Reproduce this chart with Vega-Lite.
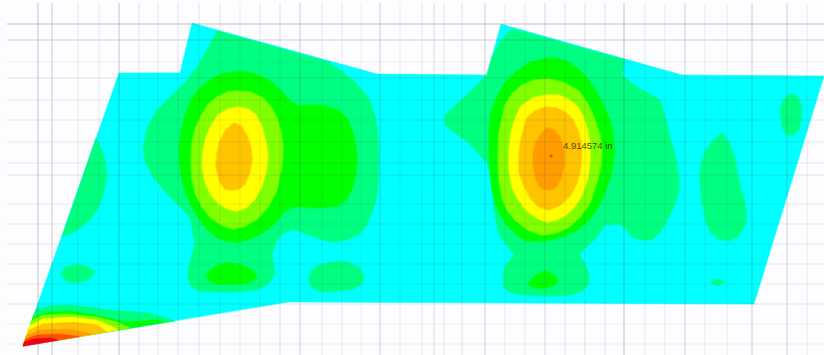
{
"$schema":"https://vega.github.io/schema/vega-lite/v6.json",
"width":824,"height":355,"padding":0,"autosize":{"type":"none"},
"background":"#fdfdff",
"config":{"view":{"stroke":null}},
"layer":[
{"data":{"values":[
{"type":"Feature","properties":{"level":"a","w":1},"geometry":{"type":"Polygon","coordinates":[[[23,346],[119,73],[180,73],[192,23],[377,74],[487,75],[501,24],[682,75],[824,76],[754,304],[288,302],[23,346]]]}},
{"type":"Feature","properties":{"level":"b","w":1.5},"geometry":{"type":"Polygon","coordinates":[[[217,31],[328,62],[340,70],[353,80],[362,90],[370,100],[375,116],[378,133],[379,160],[378,187],[376,200],[373,210],[367,224],[360,234],[347,240],[333,242],[320,239],[307,234],[293,229],[284,233],[277,240],[272,254],[275,274],[268,284],[257,290],[235,292],[213,292],[200,291],[192,287],[188,278],[188,270],[195,244],[190,217],[170,197],[153,177],[146,163],[143,150],[147,128],[157,110],[170,97],[185,83],[200,63],[217,31]]]}},
{"type":"Feature","properties":{"level":"b","w":1.5},"geometry":{"type":"Polygon","coordinates":[[[512,29],[625,60],[622,75],[630,82],[639,88],[660,100],[665,117],[669,133],[675,155],[679,177],[679,190],[675,204],[669,217],[661,231],[652,240],[642,240],[632,237],[625,228],[619,224],[605,225],[597,237],[579,254],[585,264],[589,275],[589,284],[582,291],[572,295],[547,296],[522,295],[510,292],[504,287],[503,277],[505,267],[514,255],[499,234],[494,210],[492,177],[487,163],[469,143],[455,133],[445,125],[445,115],[455,106],[469,93],[487,75],[492,57],[500,42],[512,29]]]}},
{"type":"Feature","properties":{"level":"b","w":1},"geometry":{"type":"Polygon","coordinates":[[[96,138],[102,150],[105,160],[107,177],[103,197],[97,210],[90,220],[76,231],[62,237],[96,138]]]}},
{"type":"Feature","properties":{"level":"b","w":3},"geometry":{"type":"Polygon","coordinates":[[[61,274],[65,268],[77,265],[88,267],[94,272],[90,278],[83,281],[73,283],[66,280],[61,274]]]}},
{"type":"Feature","properties":{"level":"b","w":3},"geometry":{"type":"Polygon","coordinates":[[[309,279],[312,270],[320,265],[333,262],[347,262],[359,268],[364,277],[360,285],[352,289],[336,291],[320,291],[312,287],[309,279]]]}},
{"type":"Feature","properties":{"level":"b","w":3},"geometry":{"type":"Polygon","coordinates":[[[722,134],[712,142],[706,151],[701,165],[700,177],[702,200],[706,220],[711,232],[719,239],[730,240],[738,236],[745,225],[746,214],[744,200],[740,187],[734,157],[729,143],[722,134]]]}},
{"type":"Feature","properties":{"level":"b","w":3},"geometry":{"type":"Polygon","coordinates":[[[791,94],[784,100],[781,108],[782,125],[786,134],[792,136],[798,130],[801,120],[801,105],[797,97],[791,94]]]}},
{"type":"Feature","properties":{"level":"b","w":1},"geometry":{"type":"Polygon","coordinates":[[[710,282],[717,279],[725,282],[717,286],[710,282]]]}},
{"type":"Feature","properties":{"level":"b","w":1},"geometry":{"type":"Polygon","coordinates":[[[36,309],[50,306],[67,305],[90,307],[110,310],[150,313],[175,321],[23,346],[36,309]]]}},
{"type":"Feature","properties":{"level":"c","w":2},"geometry":{"type":"Polygon","coordinates":[[[237,72],[246,72],[256,74],[270,81],[280,90],[288,99],[298,106],[310,105],[325,106],[338,110],[347,118],[353,133],[356,147],[357,160],[356,173],[353,186],[347,199],[338,206],[320,208],[305,207],[293,207],[285,211],[277,221],[268,229],[257,236],[247,240],[237,242],[226,241],[216,237],[207,229],[199,219],[192,207],[186,193],[182,180],[180,167],[179,150],[181,133],[185,115],[191,100],[201,87],[213,78],[225,73],[237,72]]]}},
{"type":"Feature","properties":{"level":"c","w":2},"geometry":{"type":"Polygon","coordinates":[[[555,58],[566,61],[577,68],[586,77],[594,88],[602,102],[609,118],[613,133],[614,147],[613,165],[610,178],[605,192],[598,207],[590,219],[579,229],[566,236],[545,241],[527,241],[518,236],[509,227],[502,218],[496,205],[492,190],[490,170],[489,150],[489,130],[491,112],[497,97],[505,83],[516,72],[529,63],[542,59],[555,58]]]}},
{"type":"Feature","properties":{"level":"c","w":3},"geometry":{"type":"Polygon","coordinates":[[[206,275],[213,268],[227,263],[241,265],[252,270],[257,278],[246,283],[233,284],[217,284],[210,281],[206,275]]]}},
{"type":"Feature","properties":{"level":"c","w":3},"geometry":{"type":"Polygon","coordinates":[[[528,284],[535,276],[545,271],[553,275],[558,281],[552,286],[545,288],[535,288],[528,284]]]}},
{"type":"Feature","properties":{"level":"c","w":1},"geometry":{"type":"Polygon","coordinates":[[[33,317],[50,312],[70,311],[100,316],[125,322],[155,320],[165,322],[23,346],[33,317]]]}},
{"type":"Feature","properties":{"level":"d","w":2},"geometry":{"type":"Polygon","coordinates":[[[238,91],[250,92],[263,98],[271,107],[277,118],[281,132],[283,147],[282,165],[277,190],[268,207],[257,219],[245,226],[233,229],[221,225],[210,217],[202,207],[196,195],[192,180],[191,160],[192,143],[195,129],[201,116],[208,105],[217,97],[228,92],[238,91]]]}},
{"type":"Feature","properties":{"level":"d","w":2},"geometry":{"type":"Polygon","coordinates":[[[549,79],[565,83],[579,91],[588,104],[595,120],[600,135],[602,150],[601,165],[597,182],[590,203],[580,217],[569,227],[556,233],[542,235],[528,230],[515,220],[507,210],[502,198],[499,180],[498,160],[499,133],[505,105],[512,94],[522,85],[535,80],[549,79]]]}},
{"type":"Feature","properties":{"level":"d","w":1},"geometry":{"type":"Polygon","coordinates":[[[32,320],[43,315],[67,314],[97,317],[117,322],[130,328],[23,346],[32,320]]]}},
{"type":"Feature","properties":{"level":"e","w":2},"geometry":{"type":"Polygon","coordinates":[[[238,107],[248,109],[256,115],[262,127],[266,142],[268,157],[266,172],[262,186],[255,199],[247,207],[237,211],[228,209],[219,204],[211,195],[205,182],[202,167],[203,152],[206,138],[211,126],[218,115],[228,109],[238,107]]]}},
{"type":"Feature","properties":{"level":"e","w":2},"geometry":{"type":"Polygon","coordinates":[[[547,95],[558,95],[568,99],[577,106],[583,116],[587,128],[590,143],[590,160],[588,178],[582,195],[575,206],[565,216],[556,220],[547,222],[537,218],[526,210],[518,199],[512,187],[509,170],[509,150],[511,133],[515,119],[521,106],[533,98],[547,95]]]}},
{"type":"Feature","properties":{"level":"e","w":1},"geometry":{"type":"Polygon","coordinates":[[[30,325],[43,319],[70,317],[97,320],[113,327],[118,330],[23,346],[30,325]]]}},
{"type":"Feature","properties":{"level":"f","w":2},"geometry":{"type":"Polygon","coordinates":[[[234,123],[241,126],[247,136],[251,148],[252,160],[250,172],[245,184],[239,189],[232,190],[225,189],[220,182],[216,167],[217,153],[220,141],[226,130],[234,123]]]}},
{"type":"Feature","properties":{"level":"f","w":2},"geometry":{"type":"Polygon","coordinates":[[[545,107],[556,108],[565,112],[573,120],[579,133],[582,148],[581,165],[577,183],[570,196],[560,205],[549,210],[539,207],[531,199],[524,186],[519,172],[519,155],[521,139],[527,118],[535,111],[545,107]]]}},
{"type":"Feature","properties":{"level":"f","w":1},"geometry":{"type":"Polygon","coordinates":[[[29,330],[43,324],[73,322],[97,325],[107,332],[23,346],[29,330]]]}},
{"type":"Feature","properties":{"level":"g","w":2},"geometry":{"type":"Polygon","coordinates":[[[547,128],[554,130],[560,137],[564,150],[564,165],[561,178],[556,187],[549,190],[541,188],[536,180],[533,165],[533,155],[536,142],[541,134],[547,128]]]}},
{"type":"Feature","properties":{"level":"g","w":1},"geometry":{"type":"Polygon","coordinates":[[[27,335],[40,330],[70,329],[93,334],[23,346],[27,335]]]}},
{"type":"Feature","properties":{"level":"h","w":1},"geometry":{"type":"Polygon","coordinates":[[[25.5,339],[37,335],[60,334],[80,336.5],[23,346],[25.5,339]]]}},
{"type":"Feature","properties":{"level":"i","w":1},"geometry":{"type":"Polygon","coordinates":[[[24.5,342],[33,339],[50,338],[58,340.2],[23,346],[24.5,342]]]}}
]},
"mark":{"type":"geoshape","strokeOpacity":0.5,"strokeJoin":"round"},
"projection":{"type":"identity","scale":1,"translate":[0,0]},
"encoding":{
"fill":{"field":"properties.level","type":"nominal","legend":null,"scale":{"domain":["a","b","c","d","e","f","g","h","i"],"range":["#00FFFF","#00FF80","#00FF00","#80FF00","#FFFF00","#FFC400","#FF9C00","#FF5000","#F00020"]}},
"stroke":{"field":"properties.level","type":"nominal","legend":null,"scale":{"domain":["a","b","c","d","e","f","g","h","i"],"range":["#00FFFF","#00FF80","#00FF00","#80FF00","#FFFF00","#FFC400","#FF9C00","#FF5000","#F00020"]}},
"strokeWidth":{"field":"properties.w","type":"quantitative","legend":null,"scale":{"domain":[0,10],"range":[0,10]}}
}},
{"data":{"values":[
{"x":38,"s":0.2},{"x":52,"s":0.18},{"x":78,"s":0.07},{"x":99,"s":0.07},{"x":119,"s":0.2},{"x":139,"s":0.09},{"x":158,"s":0.07},{"x":178,"s":0.09},{"x":199,"s":0.09},{"x":220,"s":0.07},{"x":240,"s":0.07},{"x":260,"s":0.07},{"x":280,"s":0.09},{"x":300,"s":0.16},{"x":322,"s":0.07},{"x":342,"s":0.07},{"x":361,"s":0.05},{"x":380,"s":0.16},{"x":400,"s":0.07},{"x":422,"s":0.07},{"x":434,"s":0.12},{"x":444,"s":0.07},{"x":462,"s":0.1},{"x":485,"s":0.16},{"x":505,"s":0.07},{"x":525,"s":0.07},{"x":545,"s":0.13},{"x":565,"s":0.09},{"x":585,"s":0.1},{"x":605,"s":0.09},{"x":624,"s":0.22},{"x":645,"s":0.07},{"x":665,"s":0.07},{"x":685,"s":0.16},{"x":705,"s":0.07},{"x":727,"s":0.07},{"x":752,"s":0.16},{"x":787,"s":0.16},{"x":807,"s":0.07}
]},
"mark":{"type":"rule","color":"#444455","strokeWidth":1.5},
"encoding":{
"x":{"field":"x","type":"quantitative","axis":null,"scale":{"domain":[0,824],"range":[0,824]}},
"y":{"datum":3,"type":"quantitative","axis":null,"scale":{"domain":[0,355],"range":[0,355]}},
"y2":{"datum":355},
"opacity":{"field":"s","type":"quantitative","legend":null,"scale":{"domain":[0,1],"range":[0,1]}}
}},
{"data":{"values":[
{"y":24,"s":0.22},{"y":40,"s":0.16},{"y":62,"s":0.05},{"y":78,"s":0.1},{"y":100,"s":0.07},{"y":120,"s":0.07},{"y":142,"s":0.07},{"y":163,"s":0.07},{"y":175,"s":0.09},{"y":204,"s":0.07},{"y":224,"s":0.07},{"y":244,"s":0.07},{"y":264,"s":0.07},{"y":284,"s":0.07},{"y":304,"s":0.09},{"y":324,"s":0.05},{"y":344,"s":0.05}
]},
"mark":{"type":"rule","color":"#444455","strokeWidth":1.5},
"encoding":{
"y":{"field":"y","type":"quantitative","axis":null,"scale":{"domain":[0,355],"range":[0,355]}},
"x":{"datum":7,"type":"quantitative","axis":null,"scale":{"domain":[0,824],"range":[0,824]}},
"x2":{"datum":824},
"opacity":{"field":"s","type":"quantitative","legend":null,"scale":{"domain":[0,1],"range":[0,1]}}
}},
{"data":{"values":[{"x":551,"y":156}]},
"mark":{"type":"point","shape":"cross","size":14,"filled":true,"color":"#b05000","opacity":0.7},
"encoding":{"x":{"field":"x","type":"quantitative","axis":null,"scale":{"domain":[0,824],"range":[0,824]}},"y":{"field":"y","type":"quantitative","axis":null,"scale":{"domain":[0,355],"range":[0,355]}}}},
{"data":{"values":[{"x":563,"y":146,"t":"4.914574 in"}]},
"mark":{"type":"text","align":"left","baseline":"middle","fontSize":9.5,"font":"Liberation Sans","color":"#2a2a10","opacity":0.8},
"encoding":{"x":{"field":"x","type":"quantitative","axis":null,"scale":{"domain":[0,824],"range":[0,824]}},"y":{"field":"y","type":"quantitative","axis":null,"scale":{"domain":[0,355],"range":[0,355]}},"text":{"field":"t","type":"nominal"}}}
]
}
